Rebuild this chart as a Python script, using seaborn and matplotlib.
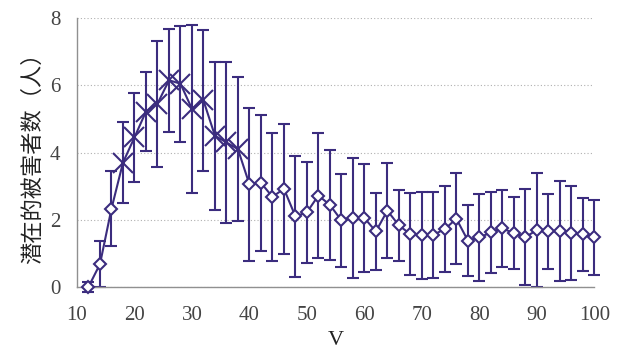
import matplotlib
matplotlib.use("Agg")
import matplotlib.pyplot as plt
import seaborn as sns
import pandas as pd
import numpy as np

# values
v = [12, 14, 16, 18, 20, 22, 24, 26, 28, 30, 32, 34, 36, 38, 40, 42, 44, 46, 48, 50,
     52, 54, 56, 58, 60, 62, 64, 66, 68, 70, 72, 74, 76, 78, 80, 82, 84, 86, 88, 90,
     92, 94, 96, 98, 100]
victims = [0.0, 0.68, 2.33, 3.7, 4.45, 5.22, 5.45, 6.15, 6.05, 5.3, 5.55, 4.5, 4.3, 4.1,
           3.05, 3.1, 2.68, 2.92, 2.1, 2.22, 2.72, 2.44, 1.98, 2.05, 2.05, 1.65, 2.27,
           1.83, 1.57, 1.53, 1.55, 1.72, 2.03, 1.38, 1.47, 1.62, 1.74, 1.6, 1.48, 1.69,
           1.65, 1.66, 1.6, 1.56, 1.47]
err = [0.15, 0.68, 1.12, 1.2, 1.33, 1.17, 1.87, 1.54, 1.73, 2.5, 2.1, 2.2, 2.4, 2.15,
       2.28, 2.03, 1.9, 1.93, 1.81, 1.5, 1.85, 1.64, 1.38, 1.8, 1.6, 1.15, 1.42, 1.05,
       1.23, 1.3, 1.28, 1.28, 1.35, 1.05, 1.3, 1.2, 1.15, 1.07, 1.42, 1.69, 1.12, 1.48,
       1.39, 1.1, 1.13]
x_ticks = [10, 20, 30, 40, 50, 60, 70, 80, 90, 100]
y_ticks = [0, 2, 4, 6, 8]

df = pd.DataFrame({"V": v, "n": victims, "err": err})
cross = (df["V"] >= 18) & (df["V"] <= 38)

color = "#3b2c7e"
sns.set_style("white")
plt.rcParams["font.family"] = ["Liberation Serif", "Noto Sans CJK SC"]

fig = plt.figure(figsize=(6.24, 3.49), dpi=100)
ax = fig.add_axes([0.1234, 0.178, 0.829, 0.77])

ax.errorbar(df["V"], df["n"], yerr=df["err"], fmt="none", ecolor=color,
            elinewidth=1.5, capsize=4.5, capthick=1.5, zorder=2, clip_on=False)
sns.lineplot(data=df, x="V", y="n", color=color, lw=1.5, ax=ax, zorder=3,
             clip_on=False)
ax.plot(df.loc[~cross, "V"], df.loc[~cross, "n"], ls="none", marker="D", ms=5.8,
        mfc="white", mec=color, mew=1.5, zorder=4, clip_on=False)
ax.plot(df.loc[cross, "V"], df.loc[cross, "n"], ls="none", marker="x", ms=14,
        mec=color, mew=1.5, zorder=4, clip_on=False)

ax.set_xlim(10, 100)
ax.set_ylim(0, 8)
ax.set_xticks(x_ticks)
ax.set_yticks(y_ticks)
ax.yaxis.grid(True, ls=(0, (1, 2)), color="#b0b0b0", lw=0.8)
for s in ["top", "right"]:
    ax.spines[s].set_visible(False)
for s in ["left", "bottom"]:
    ax.spines[s].set_color("#909090")
    ax.spines[s].set_linewidth(1.0)
ax.tick_params(direction="in", length=5, color="#909090", labelsize=15,
               labelcolor="#444444")
ax.tick_params(axis="x", pad=14)
ax.tick_params(axis="y", pad=12)
ax.set_xlabel("V", fontsize=16, labelpad=4, color="#222222")
ax.set_ylabel("潜在的被害者数（人）", fontsize=16, color="#222222",
              family=["Noto Sans CJK SC"], labelpad=4)

fig.savefig("out.png", dpi=100)
